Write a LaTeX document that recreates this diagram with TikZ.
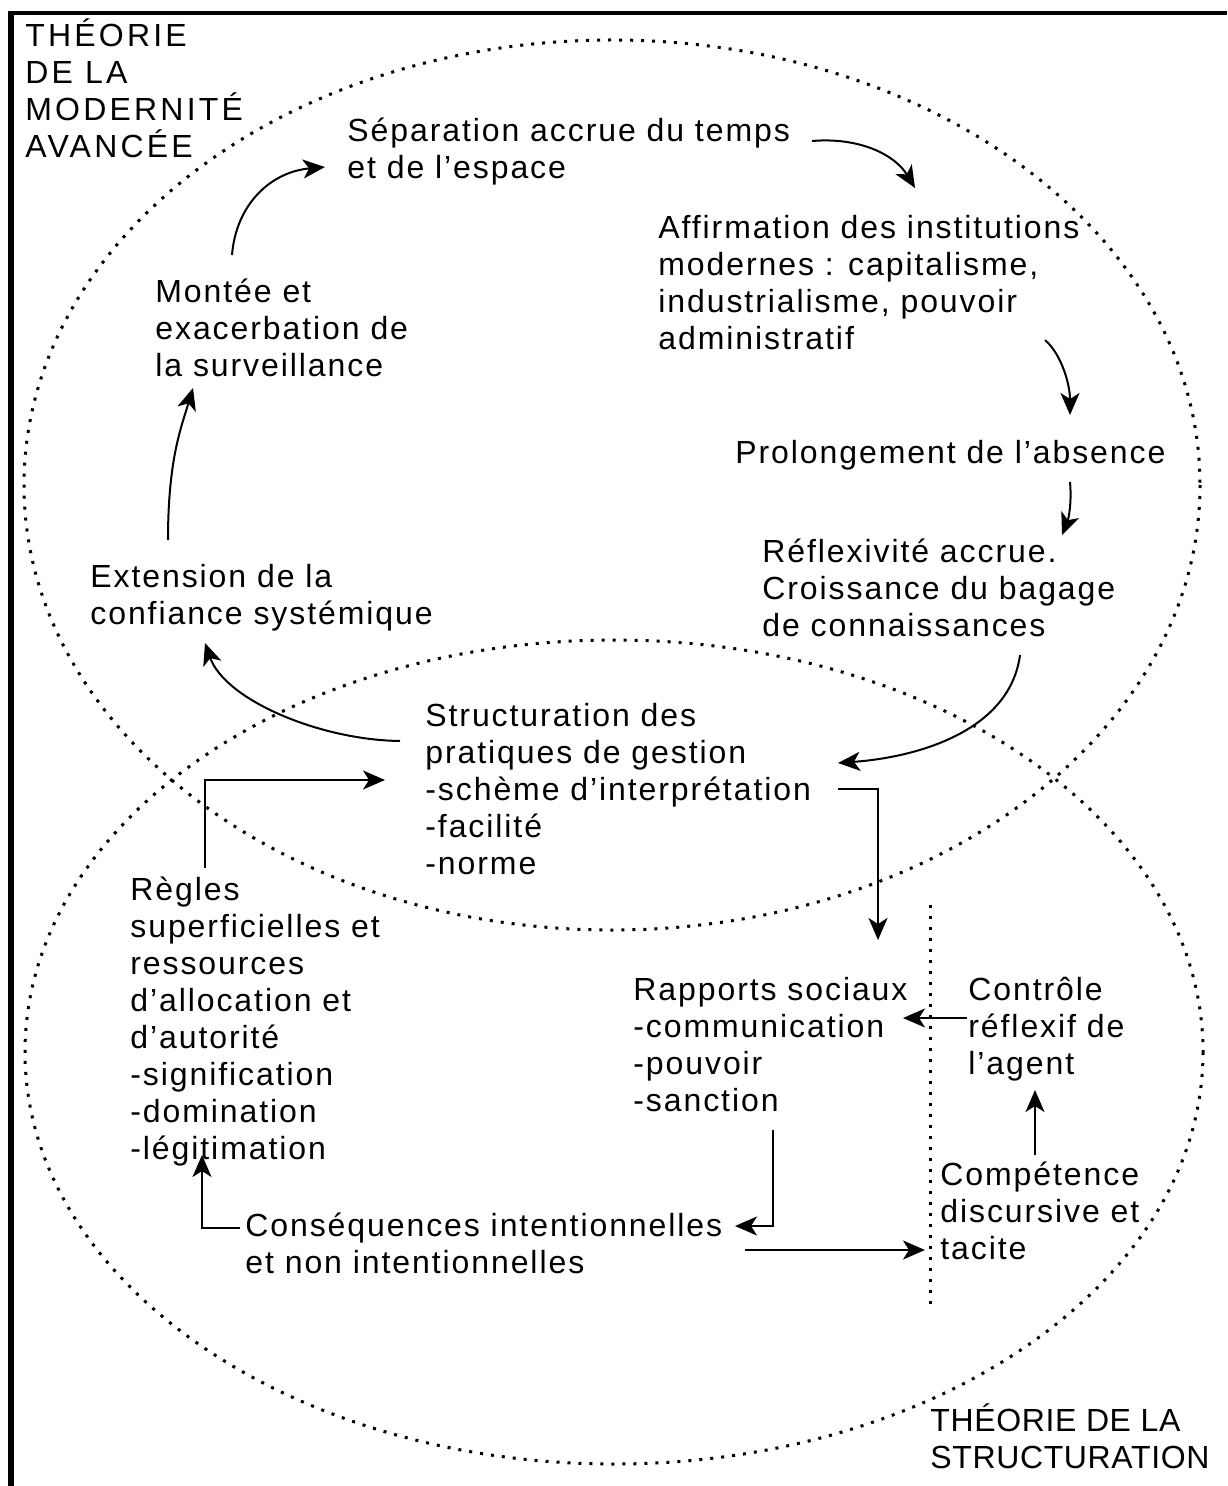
\documentclass[tikz,border=0pt]{standalone}
\usepackage{fontspec}
\setmainfont{Liberation Sans}[LetterSpace=6]
\usetikzlibrary{arrows.meta,calc}

\tikzset{
  txt/.style={anchor=north west, inner sep=0pt, align=left,
    font=\fontsize{16}{18.5}\selectfont},
  arr/.style={-{Stealth[length=11pt,width=9.5pt,inset=3pt]}, line width=1pt},
  dots/.style={line width=1.5pt, dash pattern=on 1.5pt off 4pt}
}

\begin{document}
\begin{tikzpicture}[x=0.5pt, y=-0.5pt]
    \useasboundingbox (0,0) rectangle (1227,1486);

    % the two theories
    \draw[dots] (612,485) ellipse [x radius=588, y radius=445];
    \draw[dots] (614,1052) ellipse [x radius=589, y radius=412];
    \draw[dots] (930,905) -- (930,1305);

    % frame
    \draw[line width=2pt] (8,13) -- (1227,13);
    \draw[line width=3pt] (11,13) -- (11,1486);

    \node[txt, font=\fontsize{16}{18.5}\selectfont\addfontfeature{LetterSpace=10}] (modern) at (25,18)
      {THÉORIE\\DE LA\\MODERNITÉ\\AVANCÉE};
    \node[txt, font=\fontsize{16}{18.5}\selectfont\addfontfeature{LetterSpace=2}] (struc) at (930,1403)
      {THÉORIE DE LA\\STRUCTURATION};

    \node[txt] (sep) at (347,118) {Séparation accrue du temps\\et de l’espace};
    \node[txt] (aff) at (658,215) {Affirmation des institutions\\modernes : capitalisme,\\industrialisme, pouvoir\\administratif};
    \node[txt] (prol) at (735,440) {Prolongement de l’absence};
    \node[txt] (refl) at (762,539) {Réflexivité accrue.\\Croissance du bagage\\de connaissances};
    \node[txt] (mont) at (155,279) {Montée et\\exacerbation de\\la surveillance};
    \node[txt] (ext) at (90,564) {Extension de la\\confiance systémique};
    \node[txt] (struct) at (425,703) {Structuration des\\pratiques de gestion\\-schème d’interprétation\\-facilité\\-norme};
    \node[txt] (regles) at (130,877) {Règles\\superficielles et\\ressources\\d’allocation et\\d’autorité\\-signification\\-domination\\-légitimation};
    \node[txt] (rapports) at (633,977) {Rapports sociaux\\-communication\\-pouvoir\\-sanction};
    \node[txt] (controle) at (968,977) {Contrôle\\réflexif de\\l’agent};
    \node[txt] (compet) at (940,1162) {Compétence\\discursive et\\tacite};
    \node[txt] (conseq) at (245,1213) {Conséquences intentionnelles\\et non intentionnelles};

    % cycle of modernity
    \draw[arr] ($(mont.north west)+(77,-24)$) .. controls +(4,-50) and +(-55,5) .. ($(sep.north west)+(-22,49)$);
    \draw[arr] ($(sep.north west)+(465,23)$) .. controls +(48,-4) and +(-20,-33) .. ($(aff.north west)+(257,-27)$);
    \draw[arr] ($(aff.north west)+(387,125)$) .. controls +(17,15) and +(0,-30) .. ($(prol.north west)+(335,-25)$);
    \draw[arr] ($(prol.north west)+(335,42)$) .. controls +(2,23) and +(6,-15) .. ($(refl.north west)+(300,-4)$);
    \draw[arr] ($(refl.north west)+(258,116)$) .. controls +(-10,75) and +(82,-6) .. ($(struct.north west)+(413,60)$);
    \draw[arr] ($(struct.north west)+(-25,38)$) .. controls +(-80,-1) and +(20,57) .. ($(ext.north west)+(115,79)$);
    \draw[arr] ($(ext.north west)+(78,-24)$) .. controls +(0,-80) and +(-12,40) .. ($(mont.north west)+(38,109)$);

    % structuration
    \draw[arr] ($(regles.north west)+(75,-9)$) |- ($(struct.north west)+(-40,77)$);
    \draw[arr] ($(struct.north west)+(413,86)$) -| ($(rapports.north west)+(245,-37)$);
    \draw[arr] ($(controle.north west)+(-1,41)$) -- ($(rapports.north west)+(270,41)$);
    \draw[arr] ($(compet.north west)+(95,-7)$) -- ($(controle.north west)+(67,113)$);
    \draw[arr] ($(rapports.north west)+(140,153)$) |- ($(conseq.north west)+(490,13)$);
    \draw[arr] ($(conseq.north west)+(500,37)$) -- ($(compet.north west)+(-15,88)$);
    \draw[arr] ($(conseq.north west)+(-5,15)$) -| ($(regles.north west)+(72,278)$);
\end{tikzpicture}
\end{document}
